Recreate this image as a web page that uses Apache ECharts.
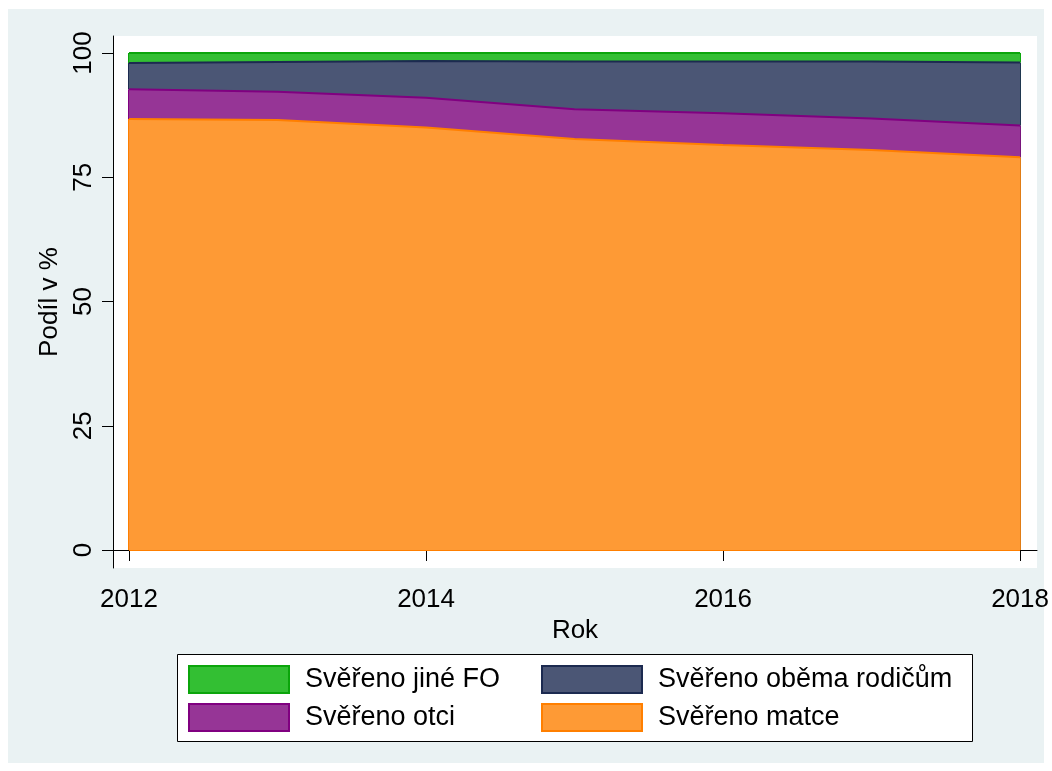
<!DOCTYPE html>
<html>
<head>
<meta charset="utf-8">
<script src="https://cdn.jsdelivr.net/npm/echarts@6/dist/echarts.min.js"></script>
<style>
html,body{margin:0;padding:0;background:#ffffff;}
#chart{width:1052px;height:771px;}
</style>
</head>
<body>
<div id="chart"></div>
<script>
// ---- data ----
const years = [2012, 2013, 2014, 2015, 2016, 2017, 2018];
const matce = [86.7, 86.5, 85.0, 82.7, 81.5, 80.5, 79.0];
const otci = [6.0, 5.7, 6.0, 6.0, 6.4, 6.3, 6.4];
const obema = [5.3, 6.0, 7.4, 9.6, 10.4, 11.5, 12.7];
const jine = [2.0, 1.8, 1.6, 1.7, 1.7, 1.7, 1.9];
const xTicks = [2012, 2014, 2016, 2018];
const yTicks = [0, 25, 50, 75, 100];
const names = ['Svěřeno matce', 'Svěřeno otci', 'Svěřeno oběma rodičům', 'Svěřeno jiné FO'];

// ---- style ----
const FONT = 'Liberation Sans, Arial, Helvetica, sans-serif';
const fills = ['#FE9A35', '#963596', '#4B5675', '#33BF33'];
const borders = ['#FF7F00', '#800080', '#1C2A50', '#0BA50B'];

const values = [matce, otci, obema, jine];
const n = years.length;
// cumulative stacking (bottom = sum of lower series, top = bottom + value)
const bottoms = values.map((_, si) => years.map((_, i) => {
  let s = 0; for (let k = 0; k < si; k++) s += values[k][i]; return s;
}));
const tops = values.map((vals, si) => vals.map((v, i) => bottoms[si][i] + v));

const series = values.map((vals, si) => {
  const b = bottoms[si], t = tops[si];
  const segs = [
    [{coord: [years[0], b[0]]}, {coord: [years[0], t[0]]}],
    [{coord: [years[n-1], b[n-1]]}, {coord: [years[n-1], t[n-1]]}]
  ];
  if (si === 0) segs.push([{coord: [years[0], 0]}, {coord: [years[n-1], 0]}]);
  return {
    name: names[si],
    type: 'line',
    symbol: 'none',
    smooth: false,
    data: years.map((y, i) => [y, t[i]]),
    lineStyle: {color: borders[si], width: 2},
    itemStyle: {color: fills[si], borderColor: borders[si], borderWidth: 2},
    areaStyle: {color: fills[si], opacity: 1, origin: 'auto'},
    z: 10 - si,
    markLine: {
      silent: true, symbol: 'none', animation: false,
      label: {show: false},
      lineStyle: {color: borders[si], width: 2, type: 'solid'},
      data: segs
    }
  };
});

function legendFor(name, idx, left, top) {
  return {
    left: left, top: top, orient: 'horizontal', padding: 0,
    itemWidth: 100, itemHeight: 27,
    icon: 'rect',
    selectedMode: false,
    textStyle: {fontFamily: FONT, fontSize: 27, color: '#000', padding: [0, 0, 0, 11]},
    data: [{name: name, itemStyle: {color: fills[idx], borderColor: borders[idx], borderWidth: 2}}]
  };
}

const chart = echarts.init(document.getElementById('chart'), null, {renderer: 'canvas'});
chart.setOption({
  animation: false,
  backgroundColor: '#ffffff',
  graphic: [
    {type: 'rect', z: -100, silent: true, shape: {x: 8, y: 9, width: 1036, height: 754}, style: {fill: '#EAF2F3'}},
    {type: 'rect', z: -90, silent: true, shape: {x: 177.5, y: 654.5, width: 795, height: 87}, style: {fill: '#ffffff', stroke: '#000', lineWidth: 1}}
  ],
  grid: {left: 113, right: 15, top: 36, bottom: 203, show: true, backgroundColor: '#ffffff', borderWidth: 0},
  xAxis: {
    type: 'value',
    min: 2011.892, max: 2018.114,
    name: 'Rok', nameLocation: 'middle', nameGap: 43,
    nameTextStyle: {fontFamily: FONT, fontSize: 26, color: '#000'},
    axisLine: {show: true, lineStyle: {color: '#000', width: 1}},
    axisTick: {show: true, length: 11, customValues: xTicks, lineStyle: {color: '#000'}},
    axisLabel: {customValues: xTicks, margin: 19, fontFamily: FONT, fontSize: 26, color: '#000', formatter: v => String(Math.round(v))},
    splitLine: {show: false}
  },
  yAxis: {
    type: 'value',
    min: -3.62, max: 103.42,
    name: 'Podíl v %', nameLocation: 'middle', nameGap: 40, nameRotate: 90,
    nameTextStyle: {fontFamily: FONT, fontSize: 26, color: '#000'},
    axisLine: {show: true, lineStyle: {color: '#000', width: 1}},
    axisTick: {show: true, length: 11, customValues: yTicks, lineStyle: {color: '#000'}},
    axisLabel: {customValues: yTicks, rotate: 90, margin: 16, fontFamily: FONT, fontSize: 26, color: '#000'},
    splitLine: {show: false}
  },
  legend: [
    legendFor(names[3], 3, 188, 665),
    legendFor(names[2], 2, 541, 665),
    legendFor(names[1], 1, 188, 703),
    legendFor(names[0], 0, 541, 703)
  ],
  series: series
});
</script>
</body>
</html>
